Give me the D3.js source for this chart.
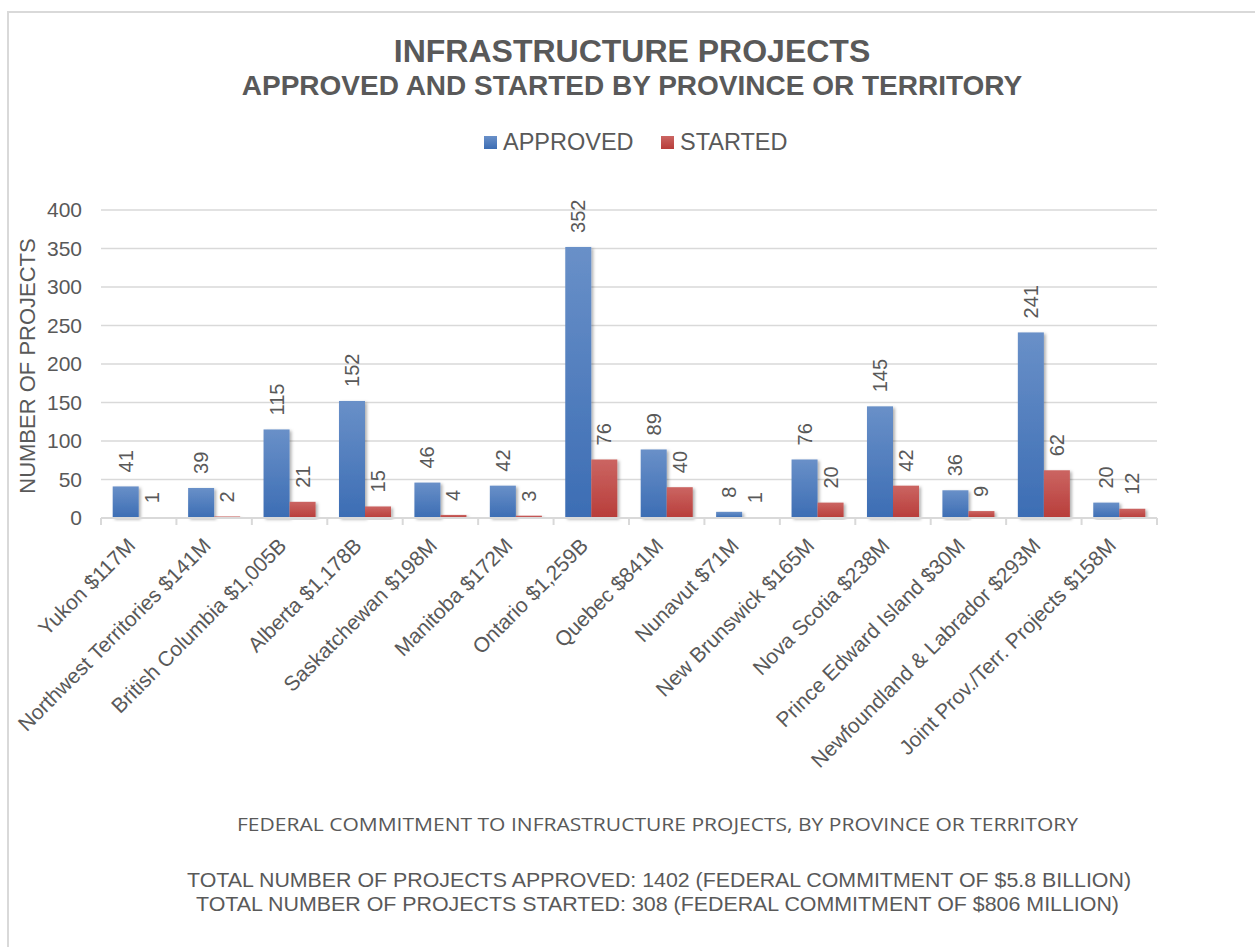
<!DOCTYPE html>
<html>
<head>
<meta charset="utf-8">
<script src="https://cdn.jsdelivr.net/npm/d3@7"></script>
<style>
  html, body { margin: 0; padding: 0; background: #fff; }
  svg { display: block; }
  text { font-family: "Liberation Sans", Arial, sans-serif; fill: #595959; }
</style>
</head>
<body>
<svg id="chart" width="1255" height="947"></svg>
<script>
// Projects per province / territory with federal commitment
const categories = [
  "Yukon $117M", "Northwest Territories $141M", "British Columbia $1,005B",
  "Alberta $1,178B", "Saskatchewan $198M", "Manitoba $172M", "Ontario $1,259B",
  "Quebec $841M", "Nunavut $71M", "New Brunswick $165M", "Nova Scotia $238M",
  "Prince Edward Island $30M", "Newfoundland & Labrador $293M",
  "Joint Prov./Terr. Projects $158M"
];
const approved = [41, 39, 115, 152, 46, 42, 352, 89, 8, 76, 145, 36, 241, 20];
const started  = [1, 2, 21, 15, 4, 3, 76, 40, 1, 20, 42, 9, 62, 12];
const seriesNames = ["APPROVED", "STARTED"];
const yTicks = [0, 50, 100, 150, 200, 250, 300, 350, 400];

const svg = d3.select("#chart");

// outer chart frame
svg.append("rect")
  .attr("x", 8).attr("y", 12).attr("width", 1300).attr("height", 1000)
  .attr("fill", "none").attr("stroke", "#d9d9d9").attr("stroke-width", 2);

const defs = svg.append("defs");
function grad(id, top, bottom) {
  const g = defs.append("linearGradient").attr("id", id)
    .attr("x1", 0).attr("y1", 0).attr("x2", 0).attr("y2", 1);
  g.append("stop").attr("offset", "0%").attr("stop-color", top);
  g.append("stop").attr("offset", "100%").attr("stop-color", bottom);
}
grad("gBlue", "#6990c8", "#3c6db4");
grad("gRed", "#cb6562", "#b83d3a");
const f = defs.append("filter").attr("id", "shadow")
  .attr("x", "-20%").attr("y", "-5%").attr("width", "150%").attr("height", "115%");
f.append("feDropShadow").attr("dx", 2).attr("dy", 1.5)
  .attr("stdDeviation", 1.6).attr("flood-color", "#000").attr("flood-opacity", 0.3);

const fills = { APPROVED: "url(#gBlue)", STARTED: "url(#gRed)" };

const x0 = d3.scaleBand().domain(categories).range([101, 1157]).padding(0);
const bw = x0.bandwidth();
const x1 = d3.scaleBand().domain(seriesNames).range([bw * 0.155, bw * 0.845]).padding(0);
const y = d3.scaleLinear().domain([0, 400]).range([518, 210]);

// gridlines
svg.append("g")
  .selectAll("line").data(yTicks.filter(d => d > 0)).join("line")
  .attr("x1", 101).attr("x2", 1157)
  .attr("y1", d => y(d)).attr("y2", d => y(d))
  .attr("stroke", "#d9d9d9").attr("stroke-width", 1.5);

// y axis labels
const yAxis = d3.axisLeft(y).tickValues(yTicks).tickSize(0).tickPadding(0);
const gy = svg.append("g").attr("transform", "translate(82,0)").call(yAxis);
gy.select(".domain").remove();
gy.selectAll("text").attr("font-size", 21).attr("fill", "#595959")
  .style("font-family", "'Liberation Sans', Arial, sans-serif");

// y axis title
svg.append("text")
  .attr("transform", "translate(35,366) rotate(-90)")
  .attr("text-anchor", "middle")
  .attr("font-size", 22)
  .text("NUMBER OF PROJECTS");

// bars
const rows = categories.map((c, i) => ({ cat: c, values: [
  { key: "APPROVED", v: approved[i] }, { key: "STARTED", v: started[i] }
]}));

const groups = svg.append("g").selectAll("g").data(rows).join("g")
  .attr("transform", d => `translate(${x0(d.cat)},0)`);

groups.selectAll("rect").data(d => d.values).join("rect")
  .attr("x", d => x1(d.key))
  .attr("y", d => y(d.v))
  .attr("width", x1.bandwidth())
  .attr("height", d => y(0) - y(d.v))
  .attr("fill", d => fills[d.key])
  .attr("filter", "url(#shadow)");

groups.selectAll("text.val").data(d => d.values).join("text")
  .attr("class", "val")
  .attr("transform", d => `translate(${x1(d.key) + x1.bandwidth() / 2},${y(d.v) - 14}) rotate(-90)`)
  .attr("text-anchor", "start")
  .attr("dominant-baseline", "central")
  .attr("font-size", 20)
  .text(d => d.v);

// x axis line and ticks
const xAxis = d3.axisBottom(x0).tickSize(0).tickFormat("");
const gx = svg.append("g").attr("transform", `translate(0,${y(0)})`).call(xAxis);
gx.select(".domain").attr("stroke", "#d9d9d9").attr("stroke-width", 2)
  .attr("d", "M101,0H1157");
gx.selectAll(".tick").remove();
svg.append("g").selectAll("line")
  .data(categories.map(c => x0(c)).concat([x0.range()[1]])).join("line")
  .attr("x1", d => d).attr("x2", d => d)
  .attr("y1", y(0)).attr("y2", y(0) + 7)
  .attr("stroke", "#d9d9d9").attr("stroke-width", 2);

// category labels
svg.append("g").selectAll("text").data(categories).join("text")
  .attr("transform", d => `translate(${x0(d) + bw / 2 - 2},547) rotate(-45)`)
  .attr("text-anchor", "end")
  .attr("font-size", 21)
  .text(d => d);

// title
svg.append("text").attr("x", 632).attr("y", 62).attr("text-anchor", "middle")
  .attr("font-size", 32).attr("font-weight", "bold")
  .text("INFRASTRUCTURE PROJECTS");
svg.append("text").attr("x", 632).attr("y", 95).attr("text-anchor", "middle")
  .attr("font-size", 28).attr("font-weight", "bold")
  .text("APPROVED AND STARTED BY PROVINCE OR TERRITORY");

// legend
const legendX = [484, 661];
const lg = svg.append("g").selectAll("g").data(seriesNames).join("g")
  .attr("transform", (d, i) => `translate(${legendX[i]},136)`);
lg.append("rect").attr("width", 13).attr("height", 13)
  .attr("fill", d => fills[d]);
lg.append("text").attr("x", 19).attr("y", 13.5).attr("font-size", 23.5).text(d => d);

// footer notes
svg.append("text").attr("x", 237).attr("y", 831)
  .attr("textLength", 841).attr("lengthAdjust", "spacingAndGlyphs")
  .attr("font-size", 19).style("font-family", "'Open Sans', sans-serif")
  .text("FEDERAL COMMITMENT TO INFRASTRUCTURE PROJECTS, BY PROVINCE OR TERRITORY");
svg.append("text").attr("x", 187).attr("y", 887)
  .attr("textLength", 944).attr("lengthAdjust", "spacingAndGlyphs")
  .attr("font-size", 20)
  .text("TOTAL NUMBER OF PROJECTS APPROVED: 1402 (FEDERAL COMMITMENT OF $5.8 BILLION)");
svg.append("text").attr("x", 196).attr("y", 911)
  .attr("textLength", 923).attr("lengthAdjust", "spacingAndGlyphs")
  .attr("font-size", 20)
  .text("TOTAL NUMBER OF PROJECTS STARTED: 308 (FEDERAL COMMITMENT OF $806 MILLION)");
</script>
</body>
</html>
